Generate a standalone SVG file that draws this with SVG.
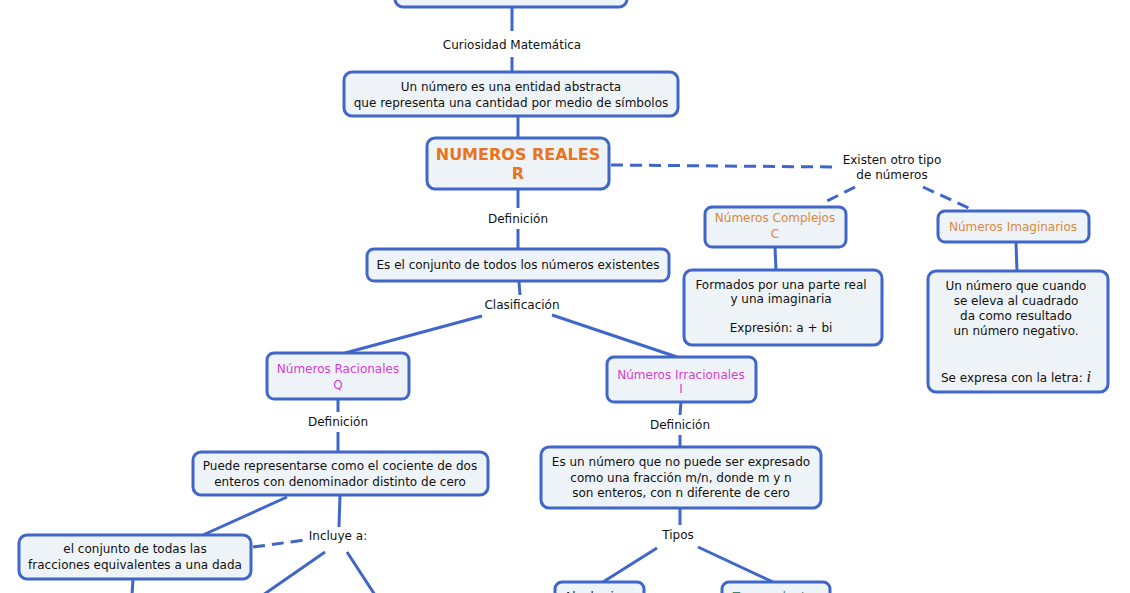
<svg xmlns="http://www.w3.org/2000/svg" width="1130" height="593" viewBox="0 0 1130 593">
<style>
.box{fill:#eef3f7;stroke:#3f66c8;stroke-width:3}
.ln{stroke:#3f66c8;stroke-width:3;fill:none}
.ds{stroke:#3f66c8;stroke-width:3;fill:none;stroke-dasharray:12 7}
text{font-family:"DejaVu Sans",Verdana,sans-serif;font-size:12px;fill:#111;text-anchor:middle}
.title{font-size:16px;font-weight:bold;fill:#e8741e}
.or{fill:#e0863a}
.mg{fill:#d93cd4}
.gr{fill:#3a8a6a}
</style>
<rect width="1130" height="593" fill="#ffffff"/>
<g id="connectors">
<line class="ln" x1="512" y1="7" x2="512" y2="31"/>
<line class="ln" x1="512" y1="57" x2="512" y2="72"/>
<line class="ln" x1="518" y1="116" x2="518" y2="138"/>
<line class="ln" x1="518" y1="189" x2="518" y2="208"/>
<line class="ln" x1="518" y1="229" x2="518" y2="249"/>
<line class="ln" x1="519" y1="282" x2="520" y2="295"/>
<line class="ln" x1="482" y1="316" x2="345" y2="353"/>
<line class="ln" x1="552" y1="315" x2="677" y2="357"/>
<line class="ln" x1="338" y1="399" x2="338" y2="412"/>
<line class="ln" x1="338" y1="432" x2="338" y2="452"/>
<line class="ln" x1="681" y1="402" x2="680" y2="415"/>
<line class="ln" x1="680" y1="435" x2="680" y2="447"/>
<line class="ln" x1="680" y1="508" x2="680" y2="525"/>
<line class="ln" x1="657" y1="548" x2="603" y2="582"/>
<line class="ln" x1="698" y1="547" x2="773" y2="582"/>
<line class="ln" x1="287" y1="497" x2="203" y2="535"/>
<line class="ln" x1="340" y1="495" x2="339" y2="527"/>
<line class="ds" x1="253" y1="547" x2="305" y2="540"/>
<line class="ln" x1="325" y1="552" x2="263" y2="595"/>
<line class="ln" x1="347" y1="552" x2="375" y2="595"/>
<line class="ln" x1="133" y1="579" x2="132" y2="595"/>
<line class="ds" x1="611" y1="165" x2="834" y2="167"/>
<line class="ds" x1="855" y1="187" x2="825" y2="202"/>
<line class="ds" x1="923" y1="187" x2="973" y2="210"/>
<line class="ln" x1="775" y1="247" x2="776" y2="270"/>
<line class="ln" x1="1016" y1="242" x2="1017" y2="271"/>
</g>
<g id="n-top"><rect class="box" x="395" y="-30" width="232" height="37" rx="8"/></g>
<g id="l-curiosidad"><text x="512" y="49">Curiosidad Matemática</text></g>
<g id="n-numero">
<rect class="box" x="344" y="72" width="334" height="44" rx="8"/>
<text x="511" y="91">Un número es una entidad abstracta</text>
<text x="511" y="107">que representa una cantidad por medio de símbolos</text>
</g>
<g id="n-reales">
<rect class="box" x="427" y="138" width="182" height="51" rx="8"/>
<text class="title" x="518" y="160">NUMEROS REALES</text>
<text class="title" x="518" y="179">R</text>
</g>
<g id="l-existen">
<text x="892" y="164">Existen otro tipo</text>
<text x="892" y="179">de números</text>
</g>
<g id="n-complejos">
<rect class="box" x="705" y="207" width="141" height="40" rx="7"/>
<text class="or" x="775" y="222">Números Complejos</text>
<text class="or" x="775" y="238">C</text>
</g>
<g id="n-formados">
<rect class="box" x="684" y="270" width="198" height="75" rx="8"/>
<text x="781" y="289">Formados por una parte real</text>
<text x="781" y="303">y una imaginaria</text>
<text x="781" y="332">Expresión: a + bi</text>
</g>
<g id="n-imaginarios">
<rect class="box" x="938" y="211" width="151" height="31" rx="7"/>
<text class="or" x="1013" y="231">Números Imaginarios</text>
</g>
<g id="n-negativo">
<rect class="box" x="928" y="271" width="180" height="121" rx="8"/>
<text x="1016" y="290">Un número que cuando</text>
<text x="1016" y="305">se eleva al cuadrado</text>
<text x="1016" y="320">da como resultado</text>
<text x="1016" y="335">un número negativo.</text>
<text x="1016" y="382">Se expresa con la letra: <tspan style="font-family:'Liberation Serif','DejaVu Serif',serif;font-style:italic;font-size:16px">i</tspan></text>
</g>
<g id="l-def1"><text x="518" y="223">Definición</text></g>
<g id="n-conjunto">
<rect class="box" x="367" y="249" width="302" height="32" rx="7"/>
<text x="518" y="269">Es el conjunto de todos los números existentes</text>
</g>
<g id="l-clasif"><text x="522" y="309">Clasificación</text></g>
<g id="n-racionales">
<rect class="box" x="267" y="353" width="142" height="46" rx="7"/>
<text class="mg" x="338" y="373">Números Racionales</text>
<text class="mg" x="338" y="389">Q</text>
</g>
<g id="n-irracionales">
<rect class="box" x="607" y="357" width="149" height="45" rx="7"/>
<text class="mg" x="681" y="379">Números Irracionales</text>
<text class="mg" x="681" y="393">I</text>
</g>
<g id="l-def2"><text x="338" y="426">Definición</text></g>
<g id="l-def3"><text x="680" y="429">Definición</text></g>
<g id="n-cociente">
<rect class="box" x="193" y="452" width="295" height="43" rx="8"/>
<text x="340" y="470">Puede representarse como el cociente de dos</text>
<text x="340" y="486">enteros con denominador distinto de cero</text>
</g>
<g id="n-irr-def">
<rect class="box" x="541" y="447" width="280" height="61" rx="8"/>
<text x="681" y="466">Es un número que no puede ser expresado</text>
<text x="681" y="482">como una fracción m/n, donde m y n</text>
<text x="681" y="497">son enteros, con n diferente de cero</text>
</g>
<g id="l-tipos"><text x="678" y="539">Tipos</text></g>
<g id="l-incluye"><text x="338" y="540">Incluye a:</text></g>
<g id="n-fracciones">
<rect class="box" x="19" y="535" width="232" height="44" rx="8"/>
<text x="135" y="553">el conjunto de todas las</text>
<text x="135" y="569">fracciones equivalentes a una dada</text>
</g>
<g id="n-algebraicos">
<rect class="box" x="555" y="582" width="89" height="40" rx="7"/>
<text x="599" y="601">Algebraicos</text>
</g>
<g id="n-trascendentes">
<rect class="box" x="722" y="582" width="108" height="40" rx="7"/>
<text class="gr" x="776" y="601">Trascendentes</text>
</g>
</svg>
